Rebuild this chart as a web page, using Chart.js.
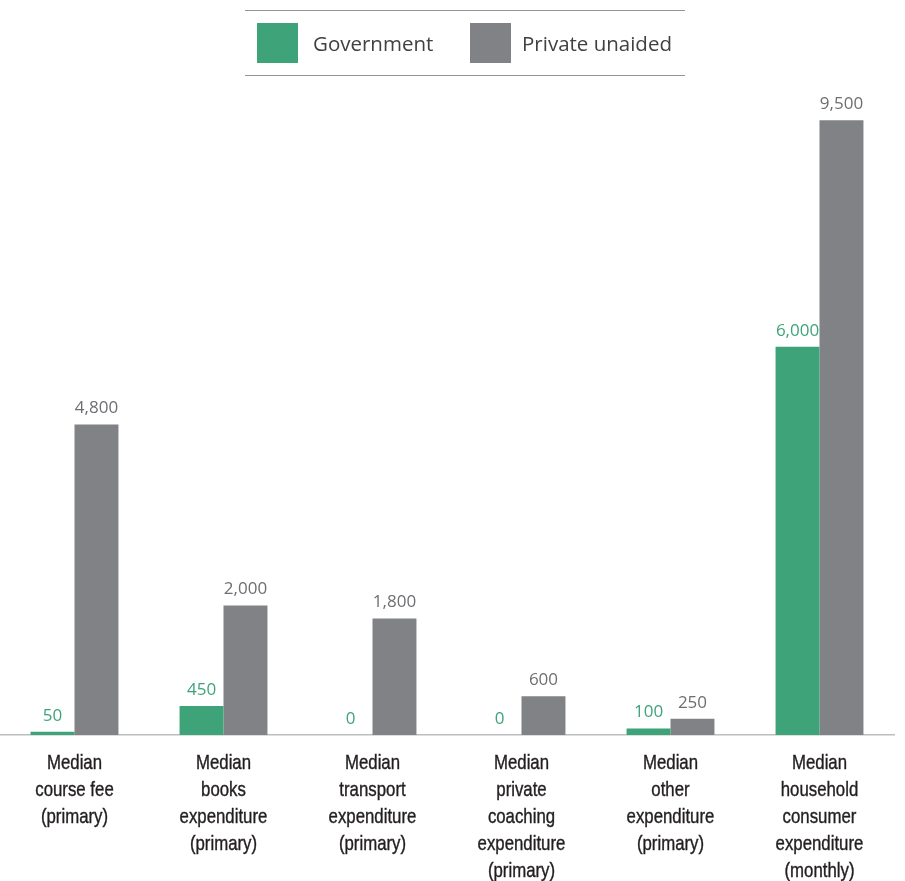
<!DOCTYPE html>
<html>
<head>
<meta charset="utf-8">
<script src="https://cdn.jsdelivr.net/npm/chart.js@4/dist/chart.umd.min.js"></script>
<style>
  body { margin: 0; background: #ffffff; }
  #wrap { position: relative; width: 905px; height: 881px; }
  #legend {
    position: absolute; left: 245px; top: 10px; width: 440px; height: 64px;
    border-top: 1.5px solid #939598; border-bottom: 1.5px solid #939598;
    font-family: "Open Sans", "Noto Sans", sans-serif; font-size: 20.5px; color: #414042;
  }
  .item { position: absolute; top: 12px; height: 40px; line-height: 40px; }
  .box { display: inline-block; width: 41px; height: 40px; vertical-align: top; margin-right: 15px; }
</style>
</head>
<body>
<div id="wrap">
  <canvas id="cost-chart" width="905" height="881"></canvas>
  <div id="legend">
    <div class="item" style="left:12px"><span class="box" style="background:#3fa37a"></span>Government</div>
    <div class="item" style="left:225px"><span class="box" style="background:#808285;margin-right:11px"></span>Private unaided</div>
  </div>
</div>
<script>
// categories, one array of lines per label
var categories = [
  ["Median", "course fee", "(primary)"],
  ["Median", "books", "expenditure", "(primary)"],
  ["Median", "transport", "expenditure", "(primary)"],
  ["Median", "private", "coaching", "expenditure", "(primary)"],
  ["Median", "other", "expenditure", "(primary)"],
  ["Median", "household", "consumer", "expenditure", "(monthly)"]
];
var governmentValues = [50, 450, 0, 0, 100, 6000];
var privateValues = [4800, 2000, 1800, 600, 250, 9500];

var green = "#3fa37a";
var grey = "#808285";

// writes the value above every bar, in the colour of its series
var valueLabels = {
  id: "valueLabels",
  afterDatasetsDraw: function(chart) {
    var ctx = chart.ctx;
    ctx.save();
    ctx.font = '17px "Open Sans", "Noto Sans", sans-serif';
    ctx.textAlign = "center";
    ctx.textBaseline = "middle";
    chart.data.datasets.forEach(function(ds, i) {
      ctx.fillStyle = ds.labelColor;
      chart.getDatasetMeta(i).data.forEach(function(bar, j) {
        ctx.fillText(ds.data[j].toLocaleString("en-US"), bar.x, bar.y - 16);
      });
    });
    ctx.restore();
  }
};

// category names under the axis, squeezed sideways to get a condensed face
var categoryLabels = {
  id: "categoryLabels",
  afterDraw: function(chart) {
    var ctx = chart.ctx;
    var xScale = chart.scales.x;
    ctx.save();
    ctx.font = '21px "Liberation Sans", Arial, sans-serif';
    ctx.fillStyle = "#231f20";
    ctx.strokeStyle = "#231f20";
    ctx.lineWidth = 0.4;
    ctx.textAlign = "center";
    ctx.textBaseline = "middle";
    chart.data.labels.forEach(function(lines, i) {
      var x = xScale.getPixelForTick(i);
      lines.forEach(function(line, k) {
        ctx.save();
        ctx.translate(x, xScale.top + 28 + k * 27);
        ctx.scale(0.8, 1);
        ctx.fillText(line, 0, 0);
        ctx.strokeText(line, 0, 0);
        ctx.restore();
      });
    });
    ctx.restore();
  }
};

var ctx = document.getElementById("cost-chart");
var myChart = new Chart(ctx, {
  type: "bar",
  data: {
    labels: categories,
    datasets: [{
      label: "Government",
      data: governmentValues,
      backgroundColor: green,
      labelColor: green
    }, {
      label: "Private unaided",
      data: privateValues,
      backgroundColor: grey,
      labelColor: "#6d6e71"
    }]
  },
  options: {
    responsive: false,
    animation: false,
    categoryPercentage: 0.59,
    barPercentage: 1,
    layout: { padding: { top: 88, left: 0, right: 11, bottom: 0 } },
    plugins: {
      legend: { display: false },
      tooltip: { enabled: false }
    },
    scales: {
      x: {
        grid: { display: false },
        border: { display: true, color: "#bcbec0", width: 1.5 },
        ticks: { display: false },
        afterFit: function(scale) { scale.height = 146; }
      },
      y: {
        display: false,
        min: 0,
        max: 10000
      }
    }
  },
  plugins: [valueLabels, categoryLabels]
});
</script>
</body>
</html>
